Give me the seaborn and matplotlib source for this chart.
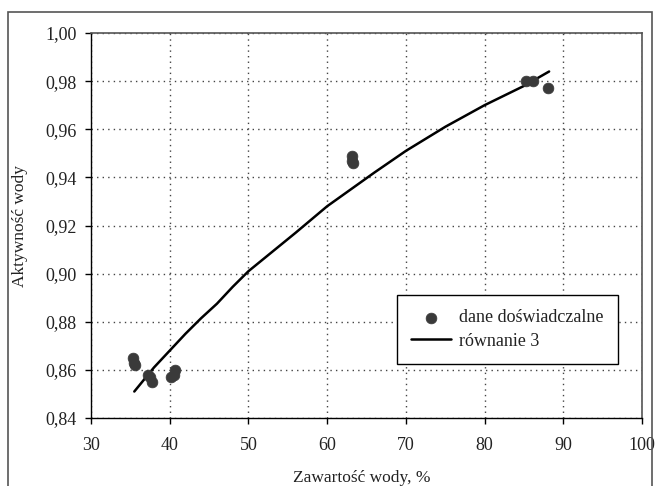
import matplotlib
matplotlib.use("Agg")
import matplotlib.pyplot as plt
import seaborn as sns
import pandas as pd
from matplotlib.patches import Rectangle
from matplotlib.ticker import FuncFormatter

# Data
exp_x = [35.3, 35.5, 35.6, 37.3, 37.5, 37.7, 40.2, 40.5, 40.7, 63.2, 63.2, 63.3, 85.3, 86.2, 88.1]
exp_y = [0.865, 0.863, 0.862, 0.858, 0.857, 0.855, 0.857, 0.858, 0.860, 0.949, 0.947, 0.946, 0.980, 0.980, 0.977]

fit_x = [35.5, 37, 38, 40, 42, 44, 46, 48, 50, 53, 56, 60, 63, 66, 70, 75, 80, 85, 88.2]
fit_y = [0.851, 0.857, 0.861, 0.868, 0.875, 0.8815, 0.8875, 0.8945, 0.901, 0.909, 0.917,
         0.928, 0.935, 0.942, 0.951, 0.961, 0.970, 0.978, 0.984]

x_ticks = [30, 40, 50, 60, 70, 80, 90, 100]
y_ticks = [0.84, 0.86, 0.88, 0.90, 0.92, 0.94, 0.96, 0.98, 1.00]

sns.set_style("white")
plt.rcParams['font.family'] = ['Liberation Serif', 'DejaVu Serif']
txt_color = "#222222"

fig = plt.figure(figsize=(6.55, 4.86), dpi=100)
ax = fig.add_axes([91/655, 1 - 418/486, (642 - 91)/655, (418 - 33)/486])

df_exp = pd.DataFrame({"x": exp_x, "y": exp_y})
df_fit = pd.DataFrame({"x": fit_x, "y": fit_y})

sns.lineplot(data=df_fit, x="x", y="y", ax=ax, color="black", linewidth=1.8,
             label="równanie 3", zorder=3, sort=True)
sns.scatterplot(data=df_exp, x="x", y="y", ax=ax, color="#3a3a3a", s=60,
                edgecolor="#3a3a3a", linewidth=0.5, label="dane doświadczalne", zorder=4)

ax.set_xlim(30, 100)
ax.set_ylim(0.84, 1.00)
ax.set_xticks(x_ticks)
ax.set_yticks(y_ticks)
ax.yaxis.set_major_formatter(FuncFormatter(lambda v, p: f"{v:.2f}".replace(".", ",")))
ax.xaxis.set_major_formatter(FuncFormatter(lambda v, p: f"{int(round(v))}"))

ax.grid(True, linestyle=(0, (1, 3)), color="#444444", linewidth=1.0)
ax.tick_params(axis="both", direction="out", length=4.5, width=1, colors="black",
               labelsize=13, labelcolor=txt_color, bottom=True, left=True)
ax.tick_params(axis="x", pad=9)
ax.tick_params(axis="y", pad=6)
for side in ["left", "bottom"]:
    ax.spines[side].set_color("black")
    ax.spines[side].set_linewidth(1.0)
for side in ["top", "right"]:
    ax.spines[side].set_color("#555555")
    ax.spines[side].set_linewidth(1.2)

ax.set_xlabel("Zawartość wody, %", fontsize=12.5, color=txt_color)
ax.set_ylabel("Aktywność wody", fontsize=12.5, color=txt_color)
ax.xaxis.set_label_coords((362 - 91)/551, (418 - 470)/385)
ax.yaxis.set_label_coords((28 - 91)/551, 0.5)

handles, labels = ax.get_legend_handles_labels()
order = [labels.index("dane doświadczalne"), labels.index("równanie 3")]
leg = ax.legend([handles[i] for i in order], [labels[i] for i in order],
                loc="upper left", bbox_to_anchor=((397 - 91)/551, 1 - (295 - 33)/385),
                frameon=True, fancybox=False, edgecolor="black", fontsize=13,
                borderpad=0.8, handlelength=2.2, handletextpad=0.45, labelspacing=0.35,
                borderaxespad=0)
leg.get_frame().set_linewidth(1.0)
leg.get_frame().set_alpha(1)
for t in leg.get_texts():
    t.set_color(txt_color)

fig.patches.append(Rectangle((8/655, -0.05), 0.995 - 8/655, 1 - 12/486 + 0.05,
                             transform=fig.transFigure, fill=False,
                             edgecolor="#555555", linewidth=1.2))

fig.savefig("out.png", dpi=100)
